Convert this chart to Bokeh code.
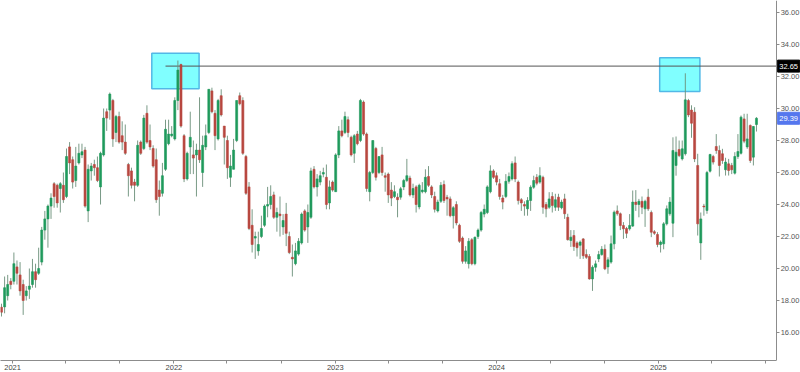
import pandas as pd
from bokeh.plotting import figure
from bokeh.core.properties import value
from bokeh.models import (Range1d, LinearAxis, DatetimeAxis, FixedTicker,
                          DatetimeTickFormatter, PrintfTickFormatter,
                          ColumnDataSource)
from bokeh.embed import file_html
from bokeh.resources import INLINE

# ---------------- data (weekly candles) ----------------
first_week = "2020-12-07"

open_ = [
    17.58, 17.6, 18.3, 19.2, 19.2, 20.1, 19.6, 19.0, 18.3, 18.7,
    19.0, 19.8, 19.7, 20.4, 22.4, 23.1, 23.9, 25.3, 25.2, 25.0,
    25.2, 24.5, 27.6, 26.8, 25.5, 26.6, 27.1, 27.4, 23.6, 26.1,
    26.5, 26.3, 25.1, 27.1, 29.8, 29.9, 30.5, 28.5, 29.5, 28.3,
    27.9, 26.5, 26.1, 25.4, 25.2, 27.9, 27.5, 29.7, 28.0, 27.5,
    26.8, 24.9, 24.7, 26.2, 27.8, 28.3, 28.1, 30.5, 32.75, 28.3,
    25.6, 27.6, 27.1, 27.1, 27.4, 26.0, 27.6, 28.5, 31.1, 29.7,
    28.1, 30.8, 28.9, 28.0, 25.7, 26.2, 28.0, 30.8, 30.5, 27.0,
    25.1, 22.7, 21.9, 21.1, 22.0, 22.7, 23.9, 24.0, 24.6, 23.2,
    23.4, 22.6, 23.4, 22.0, 20.7, 20.3, 20.9, 21.6, 23.6, 22.6,
    23.2, 26.2, 25.1, 25.4, 25.9, 25.7, 24.1, 25.4, 24.8, 27.1,
    28.6, 28.5, 29.3, 28.2, 27.2, 28.4, 28.0, 30.4, 28.4, 24.8,
    26.0, 27.5, 26.0, 27.1, 25.8, 25.9, 24.9, 24.5, 24.45, 24.46,
    25.1, 25.5, 25.65, 24.6, 25.1, 23.85, 24.8, 24.8, 25.75, 25.1,
    24.5, 23.6, 24.2, 25.25, 24.45, 24.35, 23.3, 24.0, 22.7, 21.9,
    20.45, 20.3, 21.8, 20.3, 22.0, 22.4, 23.4, 23.5, 24.8, 26.1,
    25.8, 25.3, 24.4, 24.5, 25.45, 25.6, 26.6, 25.4, 24.3, 24.0,
    23.73, 24.25, 25.08, 25.7, 25.4, 25.7, 24.0, 23.83, 24.5, 23.83,
    24.46, 23.8, 24.35, 23.2, 21.75, 22.06, 21.6, 21.45, 21.85, 20.87,
    20.75, 19.35, 20.08, 20.6, 20.87, 21.2, 20.1, 20.4, 21.54, 23.6,
    23.42, 22.69, 22.5, 22.48, 22.65, 24.15, 24.0, 24.2, 23.73, 24.46,
    23.5, 22.3, 22.125, 21.5, 21.54, 22.79, 23.42, 22.83, 26.44, 27.44,
    26.85, 27.17, 30.5, 29.9, 29.77, 26.44, 21.6, 23.9, 23.625, 26.08,
    27.0, 27.625, 27.375, 27.17, 26.17, 26.54, 26.44, 25.96, 27.0, 27.2,
    29.35, 27.6, 28.94, 26.96, 29.0,
]

high = [
    17.8, 19.5, 19.6, 19.4, 21.0, 20.5, 20.4, 19.3, 18.9, 20.0,
    20.6, 20.3, 21.3, 22.6, 23.6, 24.0, 24.7, 25.4, 25.3, 25.4,
    26.0, 27.5, 27.9, 27.0, 27.6, 27.8, 27.8, 27.6, 26.5, 26.6,
    26.8, 27.0, 27.3, 30.0, 30.0, 31.0, 30.6, 29.6, 29.8, 29.2,
    29.0, 26.6, 26.3, 25.6, 28.0, 28.0, 29.6, 30.2, 29.0, 27.7,
    27.5, 25.5, 26.6, 29.3, 29.3, 28.9, 30.7, 33.0, 32.8, 28.4,
    27.3, 29.8, 28.0, 27.8, 30.7, 28.3, 29.0, 31.2, 31.3, 29.9,
    30.6, 31.2, 28.9, 28.3, 27.1, 28.1, 30.5, 31.0, 30.7, 27.1,
    25.4, 23.7, 22.3, 22.3, 23.3, 24.0, 25.1, 25.2, 24.8, 23.8,
    24.5, 23.4, 24.1, 22.3, 21.5, 21.6, 21.9, 23.5, 23.7, 24.0,
    26.3, 26.4, 25.9, 26.1, 26.3, 26.5, 25.5, 25.5, 27.2, 28.9,
    29.3, 29.8, 29.5, 28.3, 28.4, 28.6, 30.6, 30.5, 28.5, 26.1,
    28.0, 27.6, 27.0, 27.6, 26.0, 26.0, 25.4, 25.2, 24.7, 25.1,
    25.6, 26.85, 25.8, 25.3, 25.2, 25.3, 25.4, 26.2, 26.4, 25.2,
    24.8, 24.3, 25.4, 25.5, 24.6, 24.5, 23.9, 24.2, 22.8, 22.0,
    21.4, 21.9, 21.9, 22.0, 22.5, 23.6, 24.0, 25.2, 26.45, 26.2,
    26.0, 25.6, 24.6, 25.9, 26.0, 26.7, 27.0, 25.5, 24.4, 24.2,
    24.46, 25.2, 25.8, 25.9, 26.33, 25.8, 24.15, 24.77, 24.77, 24.67,
    24.67, 24.3, 24.67, 23.42, 22.4, 22.4, 21.7, 21.75, 21.9, 21.2,
    20.9, 20.2, 20.5, 21.1, 21.4, 21.5, 20.7, 22.06, 23.625, 23.94,
    23.5, 22.9, 22.6, 23.4, 24.875, 24.9, 24.35, 24.5, 24.3, 24.98,
    23.625, 22.4, 22.27, 21.75, 22.9, 23.94, 24.46, 28.2, 28.25, 28.0,
    28.0, 32.2, 30.6, 30.2, 30.08, 27.17, 23.5, 24.04, 26.1, 27.17,
    27.1, 28.4, 27.69, 27.48, 26.92, 26.85, 26.6, 27.27, 28.4, 29.56,
    29.67, 29.67, 29.0, 28.9, 29.46,
]

low = [
    17.0, 17.2, 18.0, 18.7, 19.0, 19.0, 18.3, 17.1, 18.0, 18.1,
    18.8, 18.8, 19.6, 20.2, 21.8, 21.3, 23.1, 23.8, 23.8, 23.5,
    24.1, 24.4, 25.9, 25.0, 25.1, 26.5, 26.9, 23.8, 22.9, 25.5,
    25.8, 25.4, 24.0, 27.0, 28.6, 29.3, 27.6, 27.9, 27.8, 27.4,
    27.1, 24.5, 25.0, 24.2, 25.1, 27.1, 27.4, 27.8, 27.4, 26.3,
    24.1, 23.3, 24.5, 26.1, 27.7, 28.2, 28.0, 29.9, 28.8, 25.4,
    25.5, 25.9, 25.9, 24.5, 26.6, 25.1, 27.4, 28.4, 29.7, 27.4,
    28.0, 29.5, 26.5, 25.6, 25.1, 26.2, 27.9, 30.2, 27.1, 24.6,
    22.4, 21.0, 20.6, 20.8, 21.9, 22.6, 23.2, 23.7, 23.1, 22.3,
    22.0, 22.1, 21.4, 20.9, 19.5, 20.2, 20.8, 21.5, 22.3, 21.6,
    23.1, 25.0, 24.5, 25.2, 25.7, 23.7, 23.7, 24.8, 24.8, 26.9,
    28.2, 28.4, 28.2, 27.0, 26.6, 27.7, 27.9, 28.3, 24.8, 24.2,
    25.9, 25.5, 25.9, 25.8, 24.8, 24.1, 23.9, 24.4, 23.2, 24.3,
    24.9, 25.4, 24.5, 24.4, 23.5, 23.7, 24.7, 24.7, 25.1, 24.4,
    23.5, 23.5, 24.1, 24.1, 23.3, 23.2, 22.5, 22.7, 21.6, 20.3,
    20.3, 20.0, 20.2, 20.2, 21.85, 22.3, 23.2, 23.4, 24.7, 25.6,
    25.2, 24.3, 23.7, 24.4, 25.3, 25.5, 25.4, 24.0, 23.6, 23.3,
    23.3, 23.6, 24.98, 25.2, 25.3, 23.42, 23.2, 23.73, 23.5, 23.6,
    23.6, 23.7, 23.1, 21.75, 21.35, 21.1, 20.75, 20.6, 20.6, 20.6,
    19.3, 18.6, 19.8, 20.4, 20.8, 19.9, 19.67, 20.3, 21.2, 23.3,
    22.4, 21.85, 21.9, 22.375, 22.6, 23.6, 23.2, 23.4, 22.6, 23.6,
    21.96, 22.1, 21.33, 21.0, 21.2, 22.69, 23.3, 21.96, 25.8, 26.96,
    26.75, 27.06, 29.46, 28.17, 26.65, 22.06, 20.54, 23.3, 23.42, 26.0,
    26.5, 27.17, 25.75, 26.54, 25.81, 25.81, 25.9, 25.875, 26.85, 27.125,
    27.83, 27.48, 26.6, 26.44, 28.56,
]

close = [
    17.27, 18.8, 19.0, 19.0, 20.3, 19.7, 18.6, 18.0, 18.6, 18.9,
    19.8, 19.3, 20.0, 22.4, 23.1, 23.9, 24.4, 24.5, 24.1, 25.3,
    24.3, 27.0, 26.6, 25.4, 26.4, 27.2, 27.3, 23.9, 26.2, 26.4,
    26.3, 25.5, 27.2, 29.4, 29.4, 30.9, 28.1, 29.5, 27.9, 27.9,
    27.2, 25.8, 25.2, 25.2, 27.7, 27.2, 29.4, 27.9, 27.6, 26.4,
    24.3, 24.5, 25.8, 28.7, 28.4, 28.4, 30.5, 32.4, 28.9, 25.6,
    27.2, 28.2, 26.9, 27.4, 26.8, 27.7, 28.3, 31.2, 29.8, 28.3,
    30.5, 29.6, 28.2, 26.3, 26.4, 27.4, 30.5, 30.3, 27.2, 24.7,
    22.5, 21.5, 22.0, 21.5, 22.5, 23.9, 24.0, 24.5, 23.2, 23.5,
    23.3, 23.0, 22.2, 21.0, 20.6, 21.1, 21.7, 23.4, 22.4, 23.5,
    26.1, 25.1, 25.6, 25.8, 26.0, 24.0, 25.1, 24.9, 27.1, 28.6,
    28.3, 29.5, 28.5, 27.1, 28.3, 27.8, 30.5, 28.4, 25.0, 26.0,
    28.0, 25.7, 27.0, 26.0, 25.7, 24.6, 24.4, 24.8, 24.3, 24.98,
    25.5, 25.8, 24.6, 25.0, 24.0, 25.2, 24.9, 25.7, 25.2, 24.6,
    23.7, 24.15, 25.2, 24.25, 24.35, 23.3, 23.8, 22.85, 21.7, 20.45,
    21.1, 21.7, 20.3, 21.95, 22.4, 23.5, 23.7, 25.1, 26.1, 25.7,
    25.4, 24.5, 24.15, 25.45, 25.75, 26.55, 25.6, 24.25, 24.1, 23.9,
    24.25, 25.08, 25.5, 25.33, 25.8, 23.83, 23.73, 24.35, 23.94, 24.3,
    23.83, 24.15, 23.42, 21.8, 21.96, 21.375, 21.3, 21.65, 20.8, 20.7,
    19.35, 20.08, 20.29, 20.87, 21.2, 19.98, 20.54, 21.54, 23.52, 23.42,
    22.69, 22.48, 22.2, 22.69, 24.15, 24.0, 24.2, 23.83, 24.2, 23.73,
    22.27, 22.2, 21.5, 21.65, 22.79, 23.73, 24.15, 27.375, 27.27, 27.06,
    27.48, 30.54, 29.6, 29.08, 26.85, 22.79, 23.1, 23.85, 26.0, 27.125,
    26.65, 27.375, 26.44, 26.75, 26.65, 26.125, 26.17, 27.0, 27.31, 29.46,
    27.96, 28.1, 26.75, 28.875, 29.39,
]

price_ticks = [16, 18, 20, 22, 24, 26, 28, 30, 32, 34, 36]
year_ticks = ["2021-01-01", "2022-01-01", "2023-01-01", "2024-01-01", "2025-01-01"]
minor_date_ticks = ["2021-05-01", "2021-09-01", "2022-05-01", "2022-09-01",
                    "2023-05-01", "2023-09-01", "2024-05-01", "2024-09-01",
                    "2025-05-01", "2025-09-01"]

level = 32.65
level_from = "2021-12-13"
zone_left = ["2021-11-12", "2025-01-04"]
zone_right = ["2022-02-27", "2025-04-05"]
zone_top = [33.46, 33.17]
zone_bottom = [31.23, 31.06]
last_price = 29.39
tag_values = [level, last_price]
tag_colors = ["#000000", "#5577ee"]

# ---------------- build ----------------
dates = pd.date_range(first_week, periods=len(close), freq="7D")
up_color = "#1f9a5c"
down_color = "#b8473f"
colors = [up_color if c >= o else down_color for o, c in zip(open_, close)]
src = ColumnDataSource(dict(
    date=dates, open=open_, high=high, low=low, close=close,
    top=[max(o, c) for o, c in zip(open_, close)],
    bottom=[min(o, c) for o, c in zip(open_, close)],
    color=colors,
))

# layout: frame spans the whole width; price axis fixed inside at x≈776 px
x_start = pd.Timestamp("2020-12-04 17:00")
axis_at = pd.Timestamp("2025-09-25 14:00")
x_end = pd.Timestamp("2025-11-18 14:00")
ms_per_px = (x_end - x_start).total_seconds() * 1000 / 800.0

def ms(t):
    return pd.Timestamp(t).value // 10**6

p = figure(width=800, height=372, x_axis_type=None, y_axis_location=None,
           toolbar_location=None, output_backend="svg",
           x_range=Range1d(x_start.to_pydatetime(), x_end.to_pydatetime()),
           y_range=Range1d(14.25, 36.75),
           min_border_left=0, min_border_top=0, min_border_right=0,
           min_border_bottom=12)
p.outline_line_color = None
p.background_fill_color = "white"
p.border_fill_color = "white"
p.grid.visible = False

# price axis (right side, drawn at fixed location)
yax = LinearAxis(ticker=FixedTicker(ticks=price_ticks),
                 formatter=PrintfTickFormatter(format="%.2f"),
                 fixed_location=ms(axis_at))
yax.axis_line_color = "#8c8c8c"
yax.major_tick_line_color = "#8c8c8c"
yax.major_tick_out = 3
yax.major_tick_in = 0
yax.minor_tick_out = 0
yax.minor_tick_in = 0
yax.major_label_standoff = 1
yax.major_label_text_font = "Liberation Sans"
yax.major_label_text_font_size = "7.5px"
yax.major_label_text_color = "#555555"
p.add_layout(yax, "right")

# time axis at the bottom
xax = DatetimeAxis(ticker=FixedTicker(ticks=[ms(t) for t in year_ticks],
                                      minor_ticks=[ms(t) for t in minor_date_ticks]),
                   formatter=DatetimeTickFormatter(years="%Y", months="%Y", days="%Y",
                                                   hours="%Y", minutes="%Y"),
                   bounds=(x_start.to_pydatetime(), axis_at.to_pydatetime()))
xax.axis_line_color = "#8c8c8c"
xax.major_tick_line_color = "#8c8c8c"
xax.minor_tick_line_color = "#8c8c8c"
xax.major_tick_out = 3
xax.major_tick_in = 0
xax.minor_tick_out = 3
xax.minor_tick_in = 0
xax.major_label_standoff = 1
xax.major_label_text_font = "Liberation Sans"
xax.major_label_text_font_size = "7.5px"
xax.major_label_text_color = "#444444"
p.add_layout(xax, "below")

# zones
zsrc = ColumnDataSource(dict(
    left=pd.to_datetime(zone_left), right=pd.to_datetime(zone_right),
    top=zone_top, bottom=zone_bottom))
p.quad(left="left", right="right", top="top", bottom="bottom", source=zsrc,
       fill_color="#80ffff", fill_alpha=1.0, line_color="#52b8e6", line_width=1.5)

# level line
p.segment(x0=[pd.Timestamp(level_from)], y0=[level], x1=[axis_at], y1=[level],
          line_color="#555555", line_width=1)

# candles
p.segment(x0="date", y0="low", x1="date", y1="high", source=src,
          line_color="#6a8f79", line_width=1, line_alpha=0.9)
p.vbar(x="date", width=4.6 * 86400000, top="top", bottom="bottom", source=src,
       fill_color="color", line_color="color", line_width=0.6)

# price tags on the axis
tag_x = axis_at + pd.Timedelta(milliseconds=12.0 * ms_per_px)
tsrc = ColumnDataSource(dict(
    x=[tag_x] * len(tag_values),
    y=tag_values, text=[f"{v:.2f}" for v in tag_values], color=tag_colors))
tags = p.rect(x="x", y="y", width=22, height=12, width_units="screen",
              height_units="screen", source=tsrc, fill_color="color",
              line_color="color")
tags.level = "overlay"
tag_text = p.text(x="x", y="y", text="text", source=tsrc,
                  text_align="center", text_baseline="middle",
                  text_font=value("Liberation Sans"), text_font_size="7.5px",
                  text_color="white")
tag_text.level = "overlay"

open("out.html", "w").write(file_html(p, INLINE))
